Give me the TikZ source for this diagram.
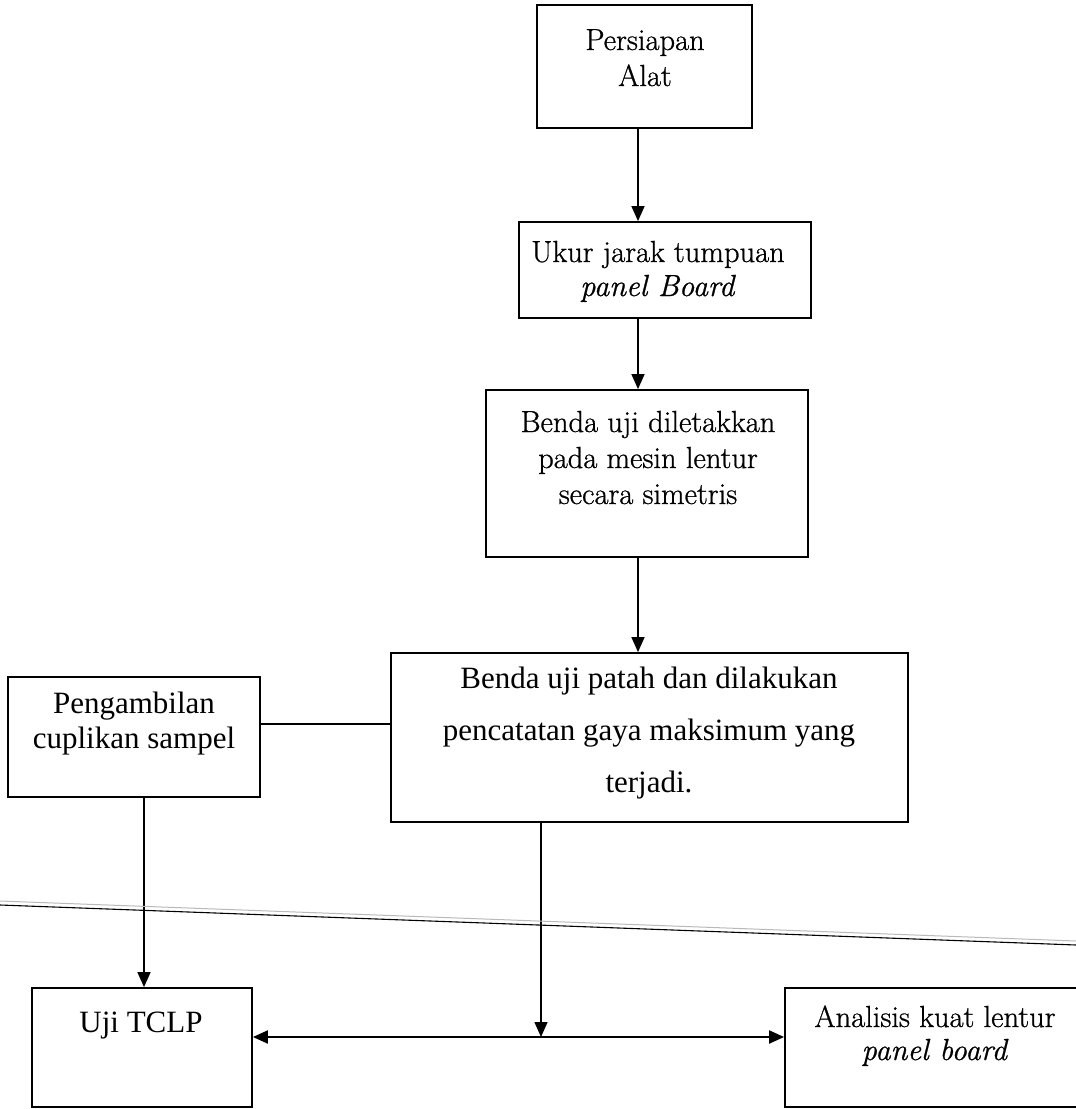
\documentclass[tikz,border=0pt]{standalone}
\usepackage{fontspec}
\newfontfamily\tnr{Liberation Serif}
\newfontfamily\bk[FakeBold=0.8]{Latin Modern Roman}
\usetikzlibrary{arrows.meta}
\begin{document}
\begin{tikzpicture}[x=1pt,y=-1pt,
  box/.style={draw, line width=1.8pt, rectangle, inner sep=0pt},
  % text blocks are placed by the baseline of their last line
  lbl/.style={align=center, inner sep=0pt, anchor=base,
    font=\bk\fontsize{30.5pt}{#1}\selectfont},
  tlbl/.style={align=center, inner sep=0pt, anchor=base,
    font=\tnr\fontsize{31pt}{#1}\selectfont},
  link/.style={line width=1.5pt},
  flow/.style={link, -{Triangle[length=15pt,width=13pt]}},
]
\useasboundingbox (0,0) rectangle (1076,1109);
\clip (0,0) rectangle (1076,1109);

% boxes
\node[box, minimum width=215pt, minimum height=123pt] (b1) at (644.5,66.5) {};
\node[box, minimum width=292pt, minimum height=96pt]  (b2) at (665,270) {};
\node[box, minimum width=322pt, minimum height=167pt] (b3) at (647,473.5) {};
\node[box, minimum width=517pt, minimum height=169pt] (b4) at (649.5,737.5) {};
\node[box, minimum width=252pt, minimum height=120pt] (b5) at (134,737) {};
\node[box, minimum width=220pt, minimum height=119pt] (b6) at (142,1047.5) {};
\node[box, minimum width=305pt, minimum height=119pt] (b7) at (937.5,1047.5) {};

% texts
\node[lbl=36pt] (t1) at (645,86) {Persiapan\\Alat};
\node[lbl=34pt] (t2) at (658,296) {Ukur jarak tumpuan\\\textit{panel Board}};
\node[lbl=36pt] (t3) at (648,504) {Benda uji diletakkan\\pada mesin lentur\\secara simetris};
\node[tlbl=52pt] (t4) at (649,792) {Benda uji patah dan dilakukan\\pencatatan gaya maksimum yang\\terjadi.};
\node[tlbl=35pt] (t5) at (134,748) {Pengambilan\\cuplikan sampel};
\node[tlbl=35pt] (t6) at (141,1032) {Uji TCLP};
\node[lbl=33pt] (t7) at (935,1060) {Analisis kuat lentur\\\textit{panel board}};

% guide coordinates for connectors
\coordinate (c1) at (638,0);
\coordinate (c4) at (541,0);
\coordinate (c5) at (144,0);
\coordinate (r5) at (0,724);
\coordinate (h) at (0,1037);
\coordinate (j) at (541,1037);

% connectors
\draw[flow] (b1.south -| c1) -- (b2.north -| c1);
\draw[flow] (b2.south -| c1) -- (b3.north -| c1);
\draw[flow] (b3.south -| c1) -- (b4.north -| c1);
\draw[link] (b5.east |- r5) -- (b4.west |- r5);
\draw[flow] (b5.south -| c5) -- (b6.north -| c5);
\draw[flow] (b4.south -| c4) -- (j);
\draw[line width=2pt, {Triangle[length=15pt,width=13pt]}-{Triangle[length=15pt,width=13pt]}] (b6.east |- h) -- (b7.west |- h);

% fold line across the sheet
\draw[gray!55, line width=1pt] (0,901) -- (1076,941);
\draw[black, line width=1.1pt] (0,905) -- (1076,945);
\end{tikzpicture}
\end{document}
